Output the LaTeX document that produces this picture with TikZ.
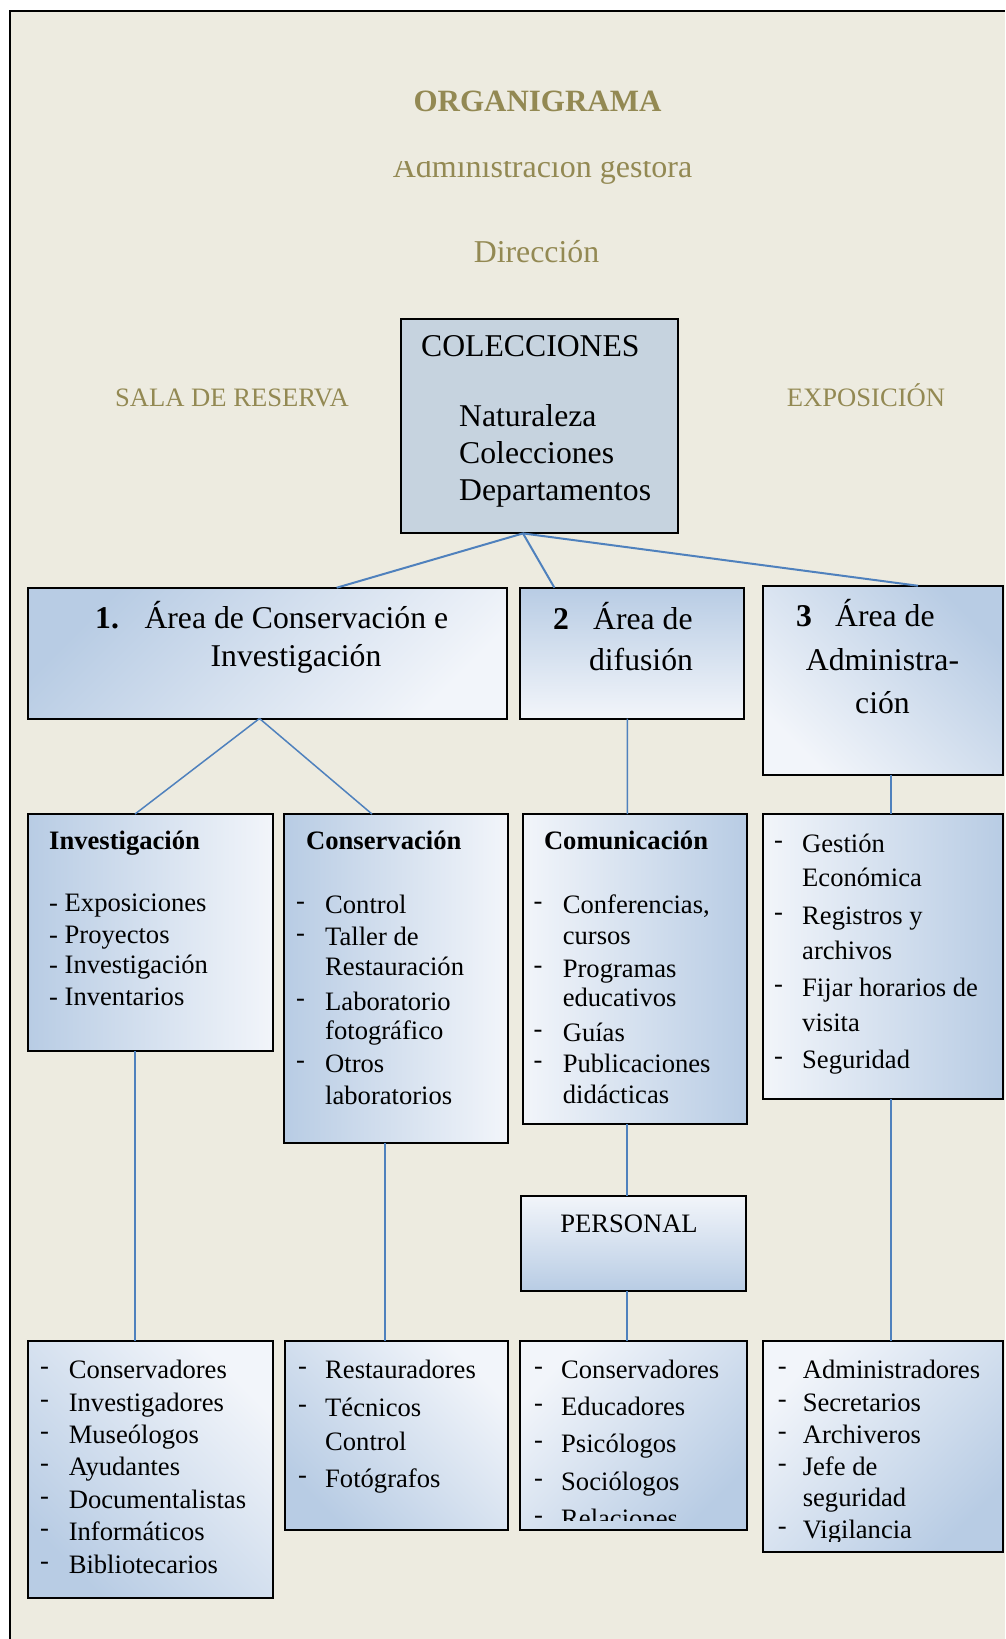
\documentclass[tikz,border=0pt]{standalone}
\usepackage{fontspec}
\setmainfont{Liberation Serif}
\definecolor{bg}{HTML}{EDEBE0}
\definecolor{olive}{HTML}{938953}
\definecolor{dk}{HTML}{B8CCE4}
\definecolor{lt}{HTML}{F2F5FA}
\definecolor{colfill}{HTML}{C6D3DF}
\definecolor{conn}{HTML}{4F81BD}
\begin{document}
\begin{tikzpicture}[x=1pt,y=-1pt,
  box/.style={draw=black, line width=2pt, inner sep=0pt, outer sep=0pt, rectangle},
  shTL/.style={top color=dk, bottom color=lt, shading angle=45},
  shTR/.style={top color=dk, bottom color=lt, shading angle=-45},
  shT/.style={top color=dk, bottom color=lt},
  shB/.style={top color=lt, bottom color=dk},
  shL/.style={top color=dk, bottom color=lt, shading angle=90},
  shR/.style={top color=dk, bottom color=lt, shading angle=-90},
  shBL/.style={top color=lt, bottom color=dk, shading angle=-45},
  shBR/.style={top color=lt, bottom color=dk, shading angle=45},
  cn/.style={draw=conn, line width=1.5pt},
  cnt/.style={draw=conn, line width=2pt},
  sm/.style={font=\fontsize{26.6}{30}\selectfont, inner sep=0pt, anchor=base west},
  smc/.style={font=\fontsize{26.6}{30}\selectfont, inner sep=0pt, anchor=base},
  lg/.style={font=\fontsize{31.7}{36}\selectfont, inner sep=0pt, anchor=base west},
  lgc/.style={font=\fontsize{31.7}{36}\selectfont, inner sep=0pt, anchor=base},
  ttl/.style={text=olive, inner sep=0pt, anchor=base},
]
\useasboundingbox (0,0) rectangle (1005,1639);
\fill[white] (0,0) rectangle (1005,1639);
\fill[bg] (10,11) rectangle (1005,1639);
\draw[black, line width=2pt] (10,1639) -- (10,11) -- (1005,11);

% titles
\node[ttl, font=\bfseries\fontsize{31}{36}\selectfont] (org) at (537.5,111.5) {ORGANIGRAMA};
\begin{scope}
\clip (300,161.5) rectangle (800,200);
\node[ttl, font=\fontsize{32}{36}\selectfont] (adm) at (542.5,177.5) {Administración gestora};
\end{scope}
\node[ttl, font=\fontsize{31.8}{36}\selectfont] (dir) at (536.5,262.5) {Dirección};
\node[ttl, font=\fontsize{26.6}{30}\selectfont] (sala) at (232,406) {SALA DE RESERVA};
\node[ttl, font=\fontsize{26.6}{30}\selectfont] (expo) at (866,406) {EXPOSICIÓN};

% boxes
\node[box, fill=colfill, minimum width=277.2, minimum height=214.4] (colec) at (539.1,426.2) {};
\node[box, shTL, minimum width=479, minimum height=130.8] (a1) at (267.7,653.1) {};
\node[box, shT, minimum width=223.8, minimum height=130.8] (a2) at (631.7,653.1) {};
\node[box, shTR, minimum width=240.3, minimum height=189.3] (a3) at (882.9,680.4) {};
\node[box, shL, minimum width=245.3, minimum height=236.7] (inv) at (150.7,932.4) {};
\node[box, shL, minimum width=223.4, minimum height=329.3] (cons) at (396,978.7) {};
\node[box, shR, minimum width=223.7, minimum height=310] (com) at (634.9,969) {};
\node[box, shR, minimum width=240.3, minimum height=285.5] (gest) at (882.9,956.7) {};
\node[box, shB, minimum width=225, minimum height=95] (pers) at (633,1243.5) {};
\node[box, shBL, minimum width=245, minimum height=257.6] (r1) at (150.6,1469.5) {};
\node[box, shBL, minimum width=223.2, minimum height=189.3] (r2) at (396.1,1435.4) {};
\node[box, shBR, minimum width=226.7, minimum height=189.3] (r3) at (633.4,1435.4) {};
\node[box, shBR, minimum width=240.3, minimum height=211] (r4) at (882.9,1446.2) {};

% connectors
\draw[cnt] ([xshift=-16.1pt]colec.south) -- ([xshift=69pt]a1.north);
\draw[cnt] ([xshift=-16.1pt]colec.south) -- ([xshift=-77.3pt]a2.north);
\draw[cnt] ([xshift=-16.1pt]colec.south) -- ([xshift=35.1pt]a3.north);
\draw[cn] ([xshift=-8.2pt]a1.south) -- ([xshift=-15.7pt]inv.north);
\draw[cn] ([xshift=-8.2pt]a1.south) -- ([xshift=-24pt]cons.north);
\draw[cn] ([xshift=-4.4pt]a2.south) -- ([xshift=-7.6pt]com.north);
\draw[cn] ([xshift=8.1pt]a3.south) -- ([xshift=8.1pt]gest.north);
\draw[cn] ([xshift=-15.7pt]inv.south) -- ([xshift=-15.6pt]r1.north);
\draw[cn] ([xshift=-11pt]cons.south) -- ([xshift=-11.1pt]r2.north);
\draw[cn] ([xshift=-7.9pt]com.south) -- ([xshift=-6pt]pers.north);
\draw[cn] ([xshift=-6pt]pers.south) -- ([xshift=-6.4pt]r3.north);
\draw[cn] ([xshift=8.1pt]gest.south) -- ([xshift=8.1pt]r4.north);

% COLECCIONES
\node[lg] (c1) at (421,356.4) {COLECCIONES};
\node[lg] (c2) at (459,426.8) {Naturaleza};
\node[lg] (c3) at (459,463.6) {Colecciones};
\node[lg] (c4) at (459,500) {Departamentos};

% area 1
\node[lg, font=\bfseries\fontsize{31.7}{36}\selectfont] (a1n) at (95,628.5) {1.};
\node[lg] (a1t) at (144.3,628.5) {Área de Conservación e};
\node[lgc] (a1u) at (296,666) {Investigación};
% area 2
\node[lg, font=\bfseries\fontsize{31.7}{36}\selectfont] (a2n) at (553,629.7) {2};
\node[lg] (a2t) at (593,629.7) {Área de};
\node[lgc] (a2u) at (641,670.3) {difusión};
% area 3
\node[lg, font=\bfseries\fontsize{31.7}{36}\selectfont] (a3n) at (796,626) {3};
\node[lg] (a3t) at (835,626) {Área de};
\node[lgc] (a3u) at (882.5,670) {Administra-};
\node[lgc] (a3v) at (882.5,713.3) {ción};

% Investigacion
\node[sm, font=\bfseries\fontsize{26.6}{30}\selectfont] (ih) at (49,849.5) {Investigación};
\node[sm] (i1) at (49,911.7) {- Exposiciones};
\node[sm] (i2) at (49,943.3) {- Proyectos};
\node[sm] (i3) at (49,973.3) {- Investigación};
\node[sm] (i4) at (49,1005) {- Inventarios};

% Conservacion
\node[sm, font=\bfseries\fontsize{26.6}{30}\selectfont] (ch) at (306,849.5) {Conservación};
\node[sm] (cd1) at (296,909.3) {-};
\node[sm] (ct1) at (325,913.3) {Control};
\node[sm] (cd2) at (296,941.7) {-};
\node[sm] (ct2) at (325,945.7) {Taller de};
\node[sm] (ct3) at (325,975.7) {Restauración};
\node[sm] (cd4) at (296,1006) {-};
\node[sm] (ct4) at (325,1010) {Laboratorio};
\node[sm] (ct5) at (325,1039.3) {fotográfico};
\node[sm] (cd6) at (296,1068.7) {-};
\node[sm] (ct6) at (325,1072.7) {Otros};
\node[sm] (ct7) at (325,1104) {laboratorios};

% Comunicacion
\node[sm, font=\bfseries\fontsize{26.6}{30}\selectfont] (mh) at (543.8,849.5) {Comunicación};
\node[sm] (md1) at (533.4,909.3) {-};
\node[sm] (mt1) at (562.6,913.3) {Conferencias,};
\node[sm] (mt2) at (562.6,944) {cursos};
\node[sm] (md3) at (533.4,973.4) {-};
\node[sm] (mt3) at (562.6,977.4) {Programas};
\node[sm] (mt4) at (562.6,1006.7) {educativos};
\node[sm] (md5) at (533.4,1037.1) {-};
\node[sm] (mt5) at (562.6,1041.1) {Guías};
\node[sm] (md6) at (533.4,1068.6) {-};
\node[sm] (mt6) at (562.6,1072.6) {Publicaciones};
\node[sm] (mt7) at (562.6,1103) {didácticas};

% Gestion
\node[sm] (gd1) at (774,848) {-};
\node[sm] (gt1) at (802,852) {Gestión};
\node[sm] (gt2) at (802,886.6) {Económica};
\node[sm] (gd3) at (774,920) {-};
\node[sm] (gt3) at (802,924) {Registros y};
\node[sm] (gt4) at (802,959) {archivos};
\node[sm] (gd5) at (774,992) {-};
\node[sm] (gt5) at (802,996) {Fijar horarios de};
\node[sm] (gt6) at (802,1031) {visita};
\node[sm] (gd7) at (774,1064.8) {-};
\node[sm] (gt7) at (802,1068.8) {Seguridad};

% PERSONAL
\node[smc] (pt) at (629,1232.7) {PERSONAL};

% row 3, box 1
\node[sm] (r1d1) at (40,1374.3) {-};
\node[sm] (r1t1) at (68.6,1378.3) {Conservadores};
\node[sm] (r1d2) at (40,1407) {-};
\node[sm] (r1t2) at (68.6,1411) {Investigadores};
\node[sm] (r1d3) at (40,1439.3) {-};
\node[sm] (r1t3) at (68.6,1443.3) {Museólogos};
\node[sm] (r1d4) at (40,1471) {-};
\node[sm] (r1t4) at (68.6,1475) {Ayudantes};
\node[sm] (r1d5) at (40,1504.3) {-};
\node[sm] (r1t5) at (68.6,1508.3) {Documentalistas};
\node[sm] (r1d6) at (40,1536.7) {-};
\node[sm] (r1t6) at (68.6,1540.7) {Informáticos};
\node[sm] (r1d7) at (40,1569.3) {-};
\node[sm] (r1t7) at (68.6,1573.3) {Bibliotecarios};

% row 3, box 2
\node[sm] (r2d1) at (298,1374.3) {-};
\node[sm] (r2t1) at (325,1378.3) {Restauradores};
\node[sm] (r2d2) at (298,1412) {-};
\node[sm] (r2t2) at (325,1416) {Técnicos};
\node[sm] (r2t3) at (325,1450) {Control};
\node[sm] (r2d4) at (298,1483.3) {-};
\node[sm] (r2t4) at (325,1487.3) {Fotógrafos};

% row 3, box 3
\node[sm] (r3d1) at (534,1374.3) {-};
\node[sm] (r3t1) at (561,1378.3) {Conservadores};
\node[sm] (r3d2) at (534,1411.7) {-};
\node[sm] (r3t2) at (561,1415.7) {Educadores};
\node[sm] (r3d3) at (534,1448.7) {-};
\node[sm] (r3t3) at (561,1452.7) {Psicólogos};
\node[sm] (r3d4) at (534,1486) {-};
\node[sm] (r3t4) at (561,1490) {Sociólogos};
\begin{scope}
\clip (525,1500) rectangle (740,1520.5);
\node[sm] (r3d5) at (534,1523.3) {-};
\node[sm] (r3t5) at (561,1527.3) {Relaciones};
\end{scope}

% row 3, box 4
\node[sm] (r4d1) at (777.6,1374.3) {-};
\node[sm] (r4t1) at (802.6,1378.3) {Administradores};
\node[sm] (r4d2) at (777.6,1407) {-};
\node[sm] (r4t2) at (802.6,1411) {Secretarios};
\node[sm] (r4d3) at (777.6,1439.3) {-};
\node[sm] (r4t3) at (802.6,1443.3) {Archiveros};
\node[sm] (r4d4) at (777.6,1471) {-};
\node[sm] (r4t4) at (802.6,1475) {Jefe de};
\node[sm] (r4t5) at (802.6,1506) {seguridad};
\begin{scope}
\clip (770,1510) rectangle (1000,1541);
\node[sm] (r4d6) at (777.6,1534.3) {-};
\node[sm] (r4t6) at (802.6,1538.3) {Vigilancia};
\end{scope}
\end{tikzpicture}
\end{document}
